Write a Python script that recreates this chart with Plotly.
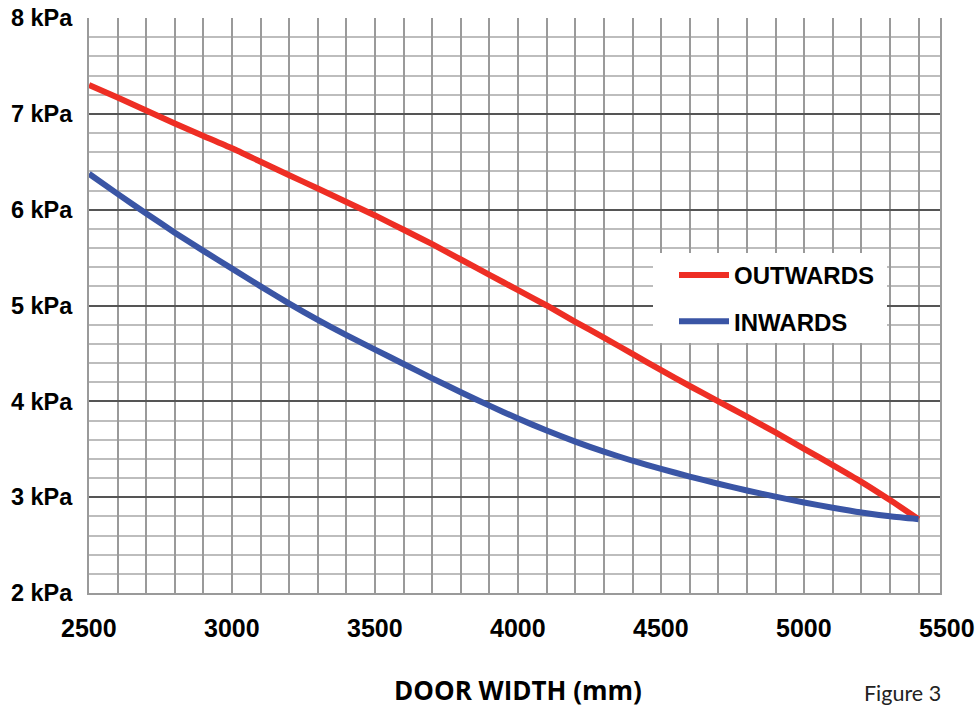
import plotly.graph_objects as go

door_width = [2500, 2600, 2700, 2800, 2900, 3000, 3100, 3200, 3300, 3400,
              3500, 3600, 3700, 3800, 3900, 4000, 4100, 4200, 4300, 4400,
              4500, 4600, 4700, 4800, 4900, 5000, 5100, 5200, 5300, 5400]
outwards = [7.30, 7.17, 7.035, 6.90, 6.77, 6.64, 6.50, 6.36, 6.22, 6.08,
            5.94, 5.79, 5.64, 5.48, 5.32, 5.16, 5.00, 4.83, 4.665, 4.495,
            4.325, 4.16, 4.00, 3.84, 3.675, 3.505, 3.335, 3.16, 2.97, 2.77]
inwards = [6.375, 6.165, 5.96, 5.76, 5.57, 5.385, 5.20, 5.02, 4.85, 4.69,
           4.54, 4.39, 4.24, 4.095, 3.955, 3.82, 3.695, 3.58, 3.475, 3.38,
           3.295, 3.215, 3.14, 3.07, 3.005, 2.945, 2.89, 2.84, 2.80, 2.77]

x_ticks = [2500, 3000, 3500, 4000, 4500, 5000, 5500]
y_ticks = [2, 3, 4, 5, 6, 7, 8]
y_tick_text = [f"{v} kPa" for v in y_ticks]

X_RANGE = [2500, 5475]
Y_RANGE = [2, 8]

RED = "#ee2e24"
BLUE = "#3a55a5"
TICK_FONT = dict(family="Liberation Sans, Arial, sans-serif", size=23.5, color="#000")

W, H = 980, 707
ML, MR, MT, MB = 89, 40, 18, 114
PW, PH = W - ML - MR, H - MT - MB

fig = go.Figure()
fig.add_trace(go.Scatter(x=door_width, y=outwards, mode="lines", name="<b>OUTWARDS</b>",
                         legendgroup="a",
                         line=dict(color=RED, width=6, shape="spline", smoothing=0.6)))
fig.add_trace(go.Scatter(x=door_width, y=inwards, mode="lines", name="<b>INWARDS</b>",
                         legendgroup="b",
                         line=dict(color=BLUE, width=6, shape="spline", smoothing=0.6)))

for v in x_ticks:
    fig.add_annotation(x=(v - X_RANGE[0]) / (X_RANGE[1] - X_RANGE[0]), xref="paper",
                       y=0, yref="paper", yshift=-35,
                       text=f"<b>{v}</b>", showarrow=False, xanchor="center",
                       yanchor="middle",
                       font=dict(family="Liberation Sans, Arial, sans-serif", size=25, color="#000"))

fig.add_annotation(x=(4000 - X_RANGE[0]) / (X_RANGE[1] - X_RANGE[0]), xref="paper", y=0, yref="paper",
                   yshift=-97, text="<b>DOOR WIDTH (mm)</b>", showarrow=False,
                   xanchor="center", yanchor="middle",
                   font=dict(family="Open Sans, sans-serif", size=26, color="#000"))
fig.add_annotation(x=1.0, xref="paper", y=0, yref="paper", xshift=-38,
                   yshift=-100, text="Figure 3", showarrow=False,
                   xanchor="center", yanchor="middle",
                   font=dict(family="Lato, sans-serif", size=21.5, color="#222"))

# white backing behind the legend
fig.add_shape(type="rect", xref="paper", yref="paper",
              x0=(653 - ML) / PW, x1=(887 - ML) / PW,
              y0=(H - MB - 343) / PH, y1=(H - MB - 253) / PH,
              fillcolor="white", line=dict(width=0), layer="above")

fig.update_xaxes(range=X_RANGE, tickmode="linear", tick0=2500, dtick=100,
                 showticklabels=False, ticks="", automargin=False,
                 showgrid=True, gridcolor="#9a9a9a", gridwidth=2,
                 showline=True, linecolor="#9a9a9a", linewidth=2, mirror=False,
                 zeroline=False)
fig.update_yaxes(range=Y_RANGE, tickmode="array", tickvals=y_ticks,
                 ticktext=[f"<b>{t}</b>" for t in y_tick_text], automargin=False,
                 tickfont=TICK_FONT, ticks="", ticklabelstandoff=10,
                 showgrid=True, gridcolor="#555555", gridwidth=2,
                 minor=dict(dtick=0.2, tick0=2, showgrid=True, gridcolor="#bdbdbd", gridwidth=2),
                 showline=True, linecolor="#9a9a9a", linewidth=2, mirror=True,
                 zeroline=False)

fig.update_layout(
    width=W, height=H,
    margin=dict(l=ML, r=MR, t=MT, b=MB, autoexpand=False),
    paper_bgcolor="white", plot_bgcolor="white",
    showlegend=True,
    legend=dict(x=(674 - ML) / PW, y=(H - MB - 253) / PH, xanchor="left", yanchor="top",
                bgcolor="rgba(0,0,0,0)", borderwidth=0, tracegroupgap=12,
                traceorder="grouped",
                font=dict(family="Liberation Sans, Arial, sans-serif", size=24, color="#000"),
                itemwidth=50),
)

fig.write_html("out.html", config={"displayModeBar": False},
               post_script="document.body.style.margin='0';document.body.style.overflow='hidden';")
